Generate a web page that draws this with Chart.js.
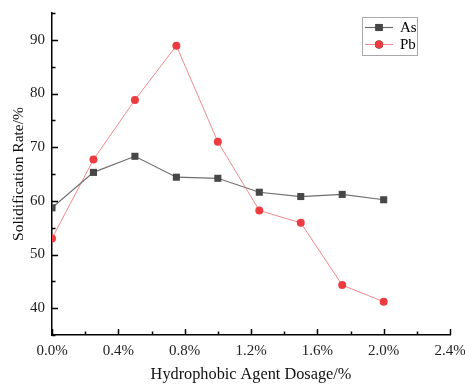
<!DOCTYPE html>
<html>
<head>
<meta charset="utf-8">
<script src="https://cdn.jsdelivr.net/npm/chart.js@4/dist/chart.umd.min.js"></script>
<style>
  html, body { margin: 0; background: #fff; }
</style>
</head>
<body>
<canvas id="myChart" width="465" height="385"></canvas>
<script>
// dosage (%) and solidification rate (%) for each metal
const dosage = [0, 0.25, 0.5, 0.75, 1.0, 1.25, 1.5, 1.75, 2.0];
const asRate = [58.7, 65.3, 68.3, 64.4, 64.2, 61.6, 60.8, 61.2, 60.2];
const pbRate = [53.0, 67.7, 78.8, 88.9, 71.0, 58.2, 55.9, 44.3, 41.2];
const seriesNames = ['As', 'Pb'];

const xTicks = [0, 0.4, 0.8, 1.2, 1.6, 2.0, 2.4];
const yTicks = [40, 50, 60, 70, 80, 90];

const serif = 'Liberation Serif, Times New Roman, serif';

function toPoints(ys) {
    return dosage.map((d, i) => ({ x: d, y: ys[i] }));
}

// midpoints between major ticks (plus the half step past the ends inside range)
function minorOf(ticks, min, max) {
    const step = ticks[1] - ticks[0];
    const out = [];
    for (let v = ticks[0] - step / 2; v <= max + 1e-9; v += step) {
        if (v >= min - 1e-9) out.push(v);
    }
    return out;
}

// keep label overhang from shrinking the plot area
function noOverhang(s) {
    s.paddingLeft = 0;
    s.paddingRight = 0;
    s.paddingTop = 0;
    s.paddingBottom = 0;
}

// inward tick marks + boxed legend
const extras = {
    id: 'extras',
    afterDraw(chart) {
        const { ctx, chartArea: area, scales: { x, y } } = chart;
        ctx.save();
        ctx.strokeStyle = '#000';
        ctx.lineWidth = 1.5;
        ctx.beginPath();
        xTicks.forEach(v => {
            const px = Math.round(x.getPixelForValue(v)) + 0.5;
            ctx.moveTo(px, area.bottom);
            ctx.lineTo(px, area.bottom - 6);
        });
        minorOf(xTicks, x.min, x.max).forEach(v => {
            const px = Math.round(x.getPixelForValue(v)) + 0.5;
            ctx.moveTo(px, area.bottom);
            ctx.lineTo(px, area.bottom - 3.5);
        });
        yTicks.forEach(v => {
            const py = Math.round(y.getPixelForValue(v)) + 0.5;
            ctx.moveTo(area.left, py);
            ctx.lineTo(area.left + 6, py);
        });
        minorOf(yTicks, y.min, y.max).forEach(v => {
            const py = Math.round(y.getPixelForValue(v)) + 0.5;
            ctx.moveTo(area.left, py);
            ctx.lineTo(area.left + 3.5, py);
        });
        ctx.stroke();

        // legend box
        const bx = 362, by = 17, bw = 55, bh = 38;
        ctx.lineWidth = 1;
        ctx.strokeStyle = '#a8a8a8';
        ctx.strokeRect(bx + 0.5, by + 0.5, bw, bh);
        chart.data.datasets.forEach((ds, i) => {
            const ly = by + 10.5 + i * 17;
            ctx.strokeStyle = ds.borderColor;
            ctx.lineWidth = ds.borderWidth;
            ctx.beginPath();
            ctx.moveTo(bx + 3, ly);
            ctx.lineTo(bx + 31, ly);
            ctx.stroke();
            Chart.helpers.drawPoint(ctx, {
                pointStyle: ds.pointStyle,
                radius: ds.pointRadius,
                borderWidth: 0,
                rotation: 0
            }, bx + 17, ly);
            ctx.fillStyle = ds.pointBackgroundColor;
            ctx.fill();
            ctx.fillStyle = '#000';
            ctx.font = '15px ' + serif;
            ctx.textBaseline = 'middle';
            ctx.textAlign = 'left';
            ctx.fillText(ds.label, bx + 38, ly + 1);
        });
        ctx.restore();
    }
};

const ctx = document.getElementById('myChart').getContext('2d');
new Chart(ctx, {
    type: 'line',
    data: {
        datasets: [
            {
                label: seriesNames[0],
                data: toPoints(asRate),
                borderColor: '#6e6e6e',
                borderWidth: 1.2,
                pointStyle: 'rect',
                pointRadius: 5,
                pointBackgroundColor: '#474747',
                pointBorderColor: '#474747',
                pointBorderWidth: 0,
                clip: 0
            },
            {
                label: seriesNames[1],
                data: toPoints(pbRate),
                borderColor: '#f38a8d',
                borderWidth: 1,
                pointStyle: 'circle',
                pointRadius: 4,
                pointBackgroundColor: '#ee3b40',
                pointBorderColor: '#ee3b40',
                pointBorderWidth: 0,
                clip: 0
            }
        ]
    },
    options: {
        responsive: false,
        animation: false,
        layout: { padding: { top: 13, right: 15, left: 0, bottom: 0 } },
        plugins: {
            legend: { display: false },
            tooltip: { enabled: false }
        },
        scales: {
            x: {
                type: 'linear',
                min: 0,
                max: 2.4,
                afterBuildTicks: s => { s.ticks = xTicks.map(v => ({ value: v })); },
                afterFit: s => { s.height = 50; noOverhang(s); },
                grid: { display: false, drawTicks: false },
                border: { color: '#000', width: 1.5 },
                ticks: {
                    padding: 7,
                    color: '#222',
                    maxRotation: 0,
                    font: { family: serif, size: 15 },
                    callback: v => v.toFixed(1) + '%'
                },
                title: {
                    display: true,
                    text: 'Hydrophobic Agent Dosage/%',
                    color: '#111',
                    padding: { top: 0, bottom: 0 },
                    font: { family: serif, size: 16.3 }
                }
            },
            y: {
                min: 35,
                max: 95,
                afterBuildTicks: s => { s.ticks = yTicks.map(v => ({ value: v })); },
                afterFit: s => { s.width = 52; noOverhang(s); },
                grid: { display: false, drawTicks: false },
                border: { color: '#000', width: 1.5 },
                ticks: {
                    padding: 7,
                    color: '#222',
                    font: { family: serif, size: 15 }
                },
                title: {
                    display: true,
                    text: 'Solidification Rate/%',
                    color: '#111',
                    padding: { top: 10, bottom: 0 },
                    font: { family: serif, size: 15.5 }
                }
            }
        }
    },
    plugins: [extras]
});
</script>
</body>
</html>
